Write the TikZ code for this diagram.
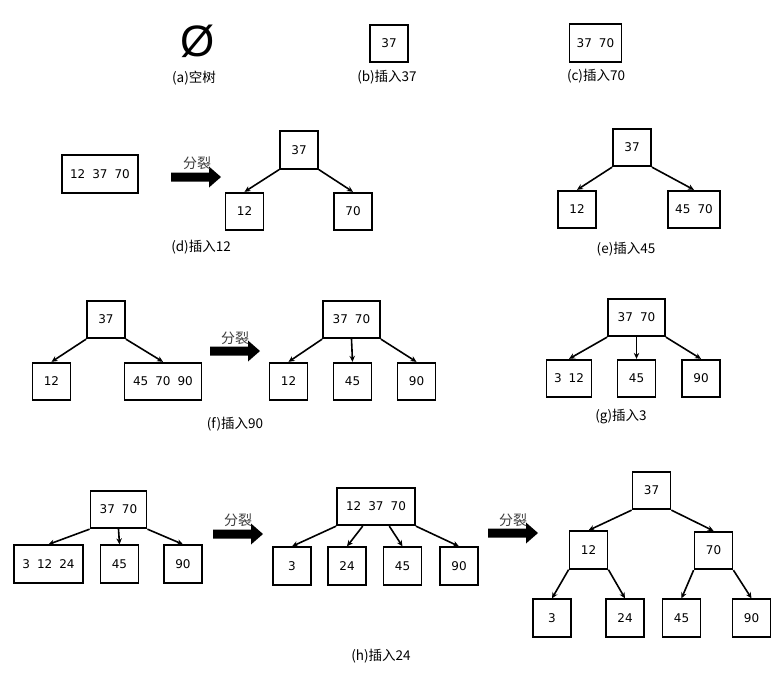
\documentclass[tikz,border=0pt]{standalone}
\usepackage{fontspec}
\setmainfont{DejaVu Sans}
\newfontfamily\cjk{Noto Sans CJK SC}
\newfontfamily\symf{Liberation Sans}
\usetikzlibrary{arrows.meta,calc}
\newcommand\gp{\hspace{7pt}}
\tikzset{
 box/.style={draw, line width=1.8pt, inner sep=0pt, minimum height=37.5pt, minimum width=38pt, font=\fontsize{12}{13}\selectfont},
 lbl/.style={font=\cjk\fontsize{13.5}{15}\selectfont, inner sep=0pt},
 splt/.style={font=\cjk\fontsize{14}{15}\selectfont, inner sep=0pt, text=black!75},
 edge/.style={line width=1.6pt, -{Stealth[length=6pt,width=5.5pt]}},
 splitarr/.pic={\fill (0,-4.5) -- (38,-4.5) -- (38,-10.5) -- (50,0) -- (38,10.5) -- (38,4.5) -- (0,4.5) -- cycle;}
}
\begin{document}
\begin{tikzpicture}[x=1pt,y=-1pt]
\fill[white] (0,0) rectangle (781,672);
\useasboundingbox (0,0) rectangle (781,672);

% (a)
\node[inner sep=0pt, font=\symf\fontsize{44}{46}\selectfont] (empty) at (198,41) {Ø};
\node[lbl] (la) at (194,78) {(a)空树};
% (b)
\node[box] (b37) at (389,43.5) {37};
\node[lbl] (lb) at (387,77) {(b)插入37};
% (c)
\node[box, minimum width=52pt] (c1) at (595.5,43) {37\gp 70};
\node[lbl] (lc) at (596,76) {(c)插入70};

% (d)
\node[box, minimum width=76pt] (d0) at (100,174) {12\gp 37\gp 70};
\pic at (171,177) {splitarr};
\node[splt] (sd) at (197,163) {分裂};
\node[box] (dr) at (299,150) {37};
\node[box] (d12) at (244.5,211.5) {12};
\node[box] (d70) at (353,211.5) {70};
\draw[edge] (dr.south west) -- (d12.north);
\draw[edge] (dr.south east) -- (d70.north);
\node[lbl] (ld) at (201,247) {(d)插入12};

% (e)
\node[box] (er) at (632,147.5) {37};
\node[box] (e12) at (577,209.5) {12};
\node[box, minimum width=52pt] (e4570) at (694,209.5) {45\gp 70};
\draw[edge] (er.south west) -- (e12.north);
\draw[edge] (er.south east) -- (e4570.north);
\node[lbl] (le) at (626,249) {(e)插入45};

% (f)
\node[box] (fr) at (106,319.5) {37};
\node[box] (f12) at (51.5,381.5) {12};
\node[box, minimum width=77pt] (f3) at (163,381.5) {45\gp 70\gp 90};
\draw[edge] (fr.south west) -- (f12.north);
\draw[edge] (fr.south east) -- (f3.north);
\pic at (210,351) {splitarr};
\node[splt] (sf) at (235,338) {分裂};
\node[box, minimum width=57pt] (gr0) at (351.5,319.5) {37\gp 70};
\node[box] (g12a) at (288.5,381.5) {12};
\node[box] (g45a) at (352.5,381.5) {45};
\node[box] (g90a) at (416.5,381.5) {90};
\draw[edge] (gr0.south west) -- (g12a.north);
\draw[edge] (gr0.south) -- (g45a.north);
\draw[edge] (gr0.south east) -- (g90a.north);
\node[lbl] (lf) at (235,424) {(f)插入90};

% (g)
\node[box, minimum width=57pt] (gr) at (636.5,317.5) {37\gp 70};
\node[box, minimum width=45pt] (g312) at (569,378.5) {3\gp 12};
\node[box] (g45) at (636.5,378.5) {45};
\node[box] (g90) at (701,378.5) {90};
\draw[edge] (gr.south west) -- (g312.north);
\draw[edge] (gr.south) -- (g45.north);
\draw[edge] (gr.south east) -- (g90.north);
\node[lbl] (lg) at (621,417) {(g)插入3};

% (h) step 1
\node[box, minimum width=56pt] (hr) at (118.5,509.5) {37\gp 70};
\node[box, minimum width=69pt] (h3) at (48.5,564) {3\gp 12\gp 24};
\node[box] (h45) at (119.5,564) {45};
\node[box] (h90) at (183,564) {90};
\draw[edge] (hr.south west) -- (h3.north);
\draw[edge] (hr.south) -- (h45.north);
\draw[edge] (hr.south east) -- (h90.north);
\pic at (213,534) {splitarr};
\node[splt] (sh1) at (238,520) {分裂};
% (h) step 2
\node[box, minimum width=78pt] (ir) at (376,506.5) {12\gp 37\gp 70};
\node[box] (i3) at (292,566) {3};
\node[box] (i24) at (347,566) {24};
\node[box] (i45) at (402.5,566) {45};
\node[box] (i90) at (459,566) {90};
\draw[edge] (ir.south west) -- (i3.north);
\draw[edge] ($(ir.south west)!0.3333!(ir.south east)$) -- (i24.north);
\draw[edge] ($(ir.south west)!0.6667!(ir.south east)$) -- (i45.north);
\draw[edge] (ir.south east) -- (i90.north);
\pic at (488,533) {splitarr};
\node[splt] (sh2) at (513,520) {分裂};
% (h) step 3
\node[box] (jr) at (651.5,490.5) {37};
\node[box] (j12) at (588.5,550) {12};
\node[box] (j70) at (713.5,550.5) {70};
\node[box] (j3) at (552,618) {3};
\node[box] (j24) at (625,618) {24};
\node[box] (j45) at (681.5,618) {45};
\node[box] (j90) at (751.5,618) {90};
\draw[edge] (jr.south west) -- (j12.north);
\draw[edge] (jr.south east) -- (j70.north);
\draw[edge] (j12.south west) -- (j3.north);
\draw[edge] (j12.south east) -- (j24.north);
\draw[edge] (j70.south west) -- (j45.north);
\draw[edge] (j70.south east) -- (j90.north);
\node[lbl] (lh) at (381,656) {(h)插入24};
\end{tikzpicture}
\end{document}
